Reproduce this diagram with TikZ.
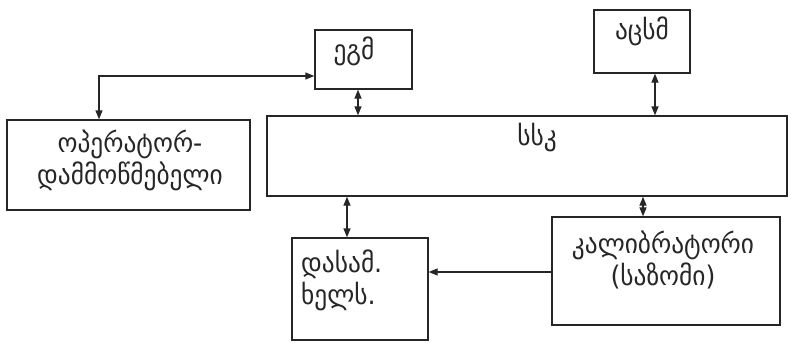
\documentclass[tikz,border=0pt]{standalone}
\usepackage{fontspec}
\newfontfamily\geo[FakeStretch=0.94]{DejaVu Sans}
\usetikzlibrary{arrows.meta}
\tikzset{
  blk/.style={draw=black!85, line width=1.3pt, fill=none, inner sep=0pt},
  lbl/.style={font=\geo\fontsize{27}{32}\selectfont, inner sep=0pt, text=black!85},
  conn/.style={draw=black!85, line width=1.3pt},
  bi/.style={conn, {Triangle[length=9pt,width=7pt]}-{Triangle[length=9pt,width=7pt]}},
  uni/.style={conn, -{Triangle[length=9pt,width=7pt]}}
}
\begin{document}
\begin{tikzpicture}[x=1pt,y=-1pt]
\useasboundingbox (0,0) rectangle (797,346);
\fill[white] (0,0) rectangle (797,346);
% boxes
\node[blk, minimum width=97pt, minimum height=59pt] (egm) at (363.5,59.5) {};
\node[blk, minimum width=96pt, minimum height=63pt] (acsm) at (642,41.5) {};
\node[blk, minimum width=520pt, minimum height=80pt] (ssk) at (527,156) {};
\node[blk, minimum width=243pt, minimum height=90pt] (op) at (128.5,165) {};
\node[blk, minimum width=136pt, minimum height=102pt] (das) at (360,289) {};
\node[blk, minimum width=228pt, minimum height=108pt] (kal) at (666,271) {};
% labels
\node[lbl] (tegm) at (354,51) {ეგმ};
\node[lbl] (tacsm) at (642,31) {აცსმ};
\node[lbl] (tssk) at (537,138) {სსკ};
\node[lbl, align=center] (top) at (130,160) {ოპერატორ-\\დამმოწმებელი};
\node[lbl, align=left, anchor=west] (tdas) at (301,280) {დასამ.\\ხელს.};
\node[lbl, align=center] (tkal) at (663,260) {კალიბრატორი\\(საზომი)};
% connectors
\coordinate (c1) at (99,76);
\draw[bi] (op.north -| c1) |- (egm.west |- c1);
\coordinate (c2) at (358,0);
\draw[bi] (egm.south -| c2) -- (ssk.north -| c2);
\coordinate (c3) at (655,0);
\draw[bi] (acsm.south -| c3) -- (ssk.north -| c3);
\coordinate (c4) at (347,0);
\draw[bi] (ssk.south -| c4) -- (das.north -| c4);
\coordinate (c5) at (643,0);
\draw[bi] (ssk.south -| c5) -- (kal.north -| c5);
\coordinate (c6) at (0,272);
\draw[uni] (kal.west |- c6) -- (das.east |- c6);
\end{tikzpicture}
\end{document}
